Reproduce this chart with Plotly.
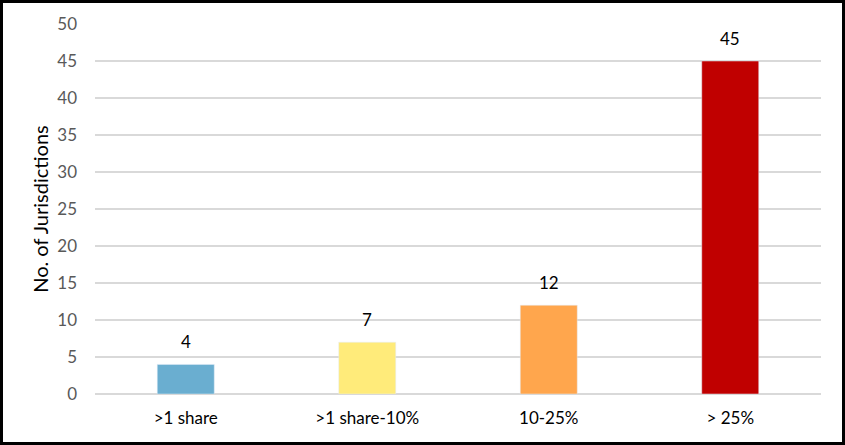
import plotly.graph_objects as go

categories = [">1 share", ">1 share-10%", "10-25%", "> 25%"]
values = [4, 7, 12, 45]
colors = ["#6aaed0", "#ffeb7a", "#ffa64d", "#c00000"]
y_ticks = list(range(0, 51, 5))

W, H = 845, 445
L, R, T, B = 95, 24, 24, 51
pw, ph = W - L - R, H - T - B
FONT = "Lato, Carlito, sans-serif"

fig = go.Figure(go.Bar(
    x=categories, y=values, marker_color=colors, width=0.314, hoverinfo="skip",
))

for c, v in zip(categories, values):
    fig.add_annotation(x=c, y=v, text=str(v), showarrow=False, yanchor="bottom",
                       yshift=10, font=dict(family=FONT, size=17, color="#000000"))

def px_x(p):
    return (p - L) / pw

def px_y(p):
    return (H - B - p) / ph

fig.update_layout(
    width=W, height=H,
    margin=dict(l=L, r=R, t=T, b=B),
    paper_bgcolor="white", plot_bgcolor="white",
    showlegend=False,
    font=dict(family=FONT, size=17, color="#595959"),
    xaxis=dict(showgrid=False, showline=False, ticks="", tickfont=dict(color="#000000", size=17), ticklabelstandoff=12),
    yaxis=dict(range=[0, 50], tickvals=y_ticks, showgrid=True, gridcolor="#d9d9d9", gridwidth=1.5,
               zeroline=True, zerolinecolor="#d9d9d9", zerolinewidth=1.5,
               ticks="", ticklabelstandoff=17, tickfont=dict(color="#595959", size=17),
               title=dict(text="No. of Jurisdictions", font=dict(color="#000000", size=20), standoff=3)),
    shapes=[dict(type="rect", xref="paper", yref="paper",
                 x0=px_x(1.5), x1=px_x(843.5), y0=px_y(443.5), y1=px_y(1.5),
                 line=dict(color="black", width=3), layer="above")],
)

fig.write_html("out.html", config={"displayModeBar": False},
               post_script="document.body.style.margin='0';")
